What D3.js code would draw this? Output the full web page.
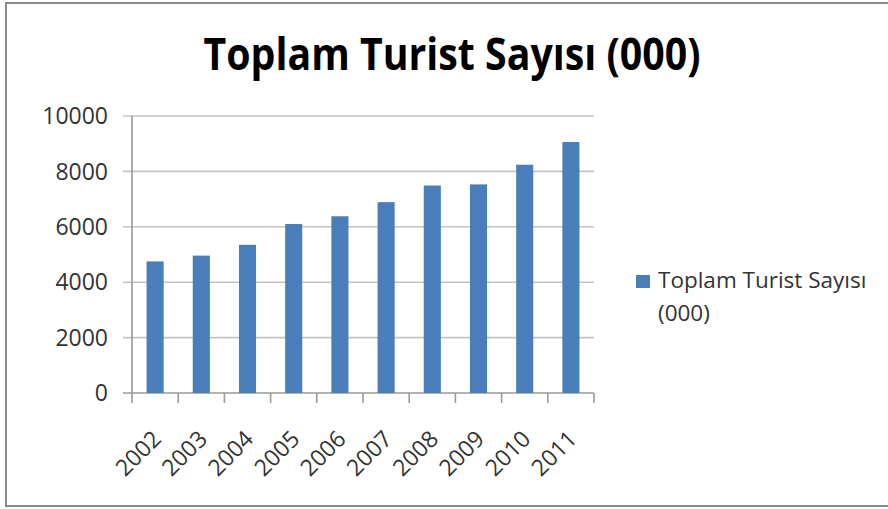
<!DOCTYPE html>
<html>
<head>
<meta charset="utf-8">
<script src="https://cdn.jsdelivr.net/npm/d3@7"></script>
<style>
  body { margin: 0; background: #fff; }
  text { font-family: "Open Sans", "Noto Sans", sans-serif; }
</style>
</head>
<body>
<div id="chart"></div>
<script>
const years = ["2002", "2003", "2004", "2005", "2006", "2007", "2008", "2009", "2010", "2011"];
const tourists = [4750, 4960, 5350, 6100, 6380, 6890, 7490, 7530, 8240, 9060];
const yTicks = [0, 2000, 4000, 6000, 8000, 10000];
const chartTitle = "Toplam Turist Sayısı (000)";
const legendLines = ["Toplam Turist Sayısı", "(000)"];

const W = 888, H = 509;
const plot = {left: 132, right: 594, top: 116, bottom: 393};
const barColor = "#4a7ebb";
const labelColor = "#333";

const svg = d3.select("#chart").append("svg")
    .attr("width", W)
    .attr("height", H);

// frame
svg.append("rect")
    .attr("x", 6).attr("y", 3)
    .attr("width", 900).attr("height", 503)
    .attr("fill", "#fff")
    .attr("stroke", "#8a8a8a")
    .attr("stroke-width", 2);

const x = d3.scaleBand()
    .domain(years)
    .range([plot.left, plot.right])
    .paddingInner(0.63)
    .paddingOuter(0.315);

const y = d3.scaleLinear()
    .domain([0, 10000])
    .range([plot.bottom, plot.top]);

// gridlines + y ticks
svg.append("g")
    .selectAll("line")
    .data(yTicks)
    .join("line")
        .attr("x1", plot.left - 9)
        .attr("x2", plot.right)
        .attr("y1", d => y(d))
        .attr("y2", d => y(d))
        .attr("stroke", d => d === 0 ? "#9a9a9a" : "#c4c4c4")
        .attr("stroke-width", 1.6);

svg.append("g")
    .selectAll("text")
    .data(yTicks)
    .join("text")
        .attr("x", 108)
        .attr("y", d => y(d))
        .attr("dy", "0.36em")
        .attr("text-anchor", "end")
        .attr("font-size", 23)
        .attr("fill", labelColor)
        .text(d => d);

// y axis line
svg.append("line")
    .attr("x1", plot.left).attr("x2", plot.left)
    .attr("y1", plot.top).attr("y2", plot.bottom)
    .attr("stroke", "#9a9a9a")
    .attr("stroke-width", 1.6);

// x ticks at category boundaries
const step = x.step();
const boundaries = d3.range(years.length + 1).map(i => plot.left + i * step);
svg.append("g")
    .selectAll("line")
    .data(boundaries)
    .join("line")
        .attr("x1", d => d).attr("x2", d => d)
        .attr("y1", plot.bottom).attr("y2", plot.bottom + 10)
        .attr("stroke", "#9a9a9a")
        .attr("stroke-width", 1.6);

// bars
svg.append("g")
    .selectAll("rect")
    .data(years)
    .join("rect")
        .attr("x", (d) => x(d))
        .attr("y", (d, i) => y(tourists[i]))
        .attr("width", x.bandwidth())
        .attr("height", (d, i) => y(0) - y(tourists[i]))
        .attr("fill", barColor);

// x labels
svg.append("g")
    .selectAll("text")
    .data(years)
    .join("text")
        .attr("transform", d => `translate(${x(d) + x.bandwidth() / 2 - 4},429) rotate(-45)`)
        .attr("dy", "0.7em")
        .attr("text-anchor", "end")
        .attr("font-size", 23)
        .attr("fill", labelColor)
        .text(d => d);

// title
svg.append("text")
    .attr("x", 452)
    .attr("y", 70)
    .attr("text-anchor", "middle")
    .attr("font-size", 44)
    .attr("font-weight", "bold")
    .attr("fill", "#000")
    .attr("textLength", 497)
    .attr("lengthAdjust", "spacingAndGlyphs")
    .text(chartTitle);

// legend
const legend = svg.append("g").attr("transform", "translate(636,275)");
legend.append("rect")
    .attr("width", 14).attr("height", 13)
    .attr("fill", barColor);
legend.append("text")
    .attr("x", 22)
    .attr("y", 13)
    .attr("font-size", 22.5)
    .attr("fill", labelColor)
    .selectAll("tspan")
    .data(legendLines)
    .join("tspan")
        .attr("x", 22)
        .attr("dy", (d, i) => i === 0 ? 0 : 33)
        .text(d => d);
</script>
</body>
</html>
